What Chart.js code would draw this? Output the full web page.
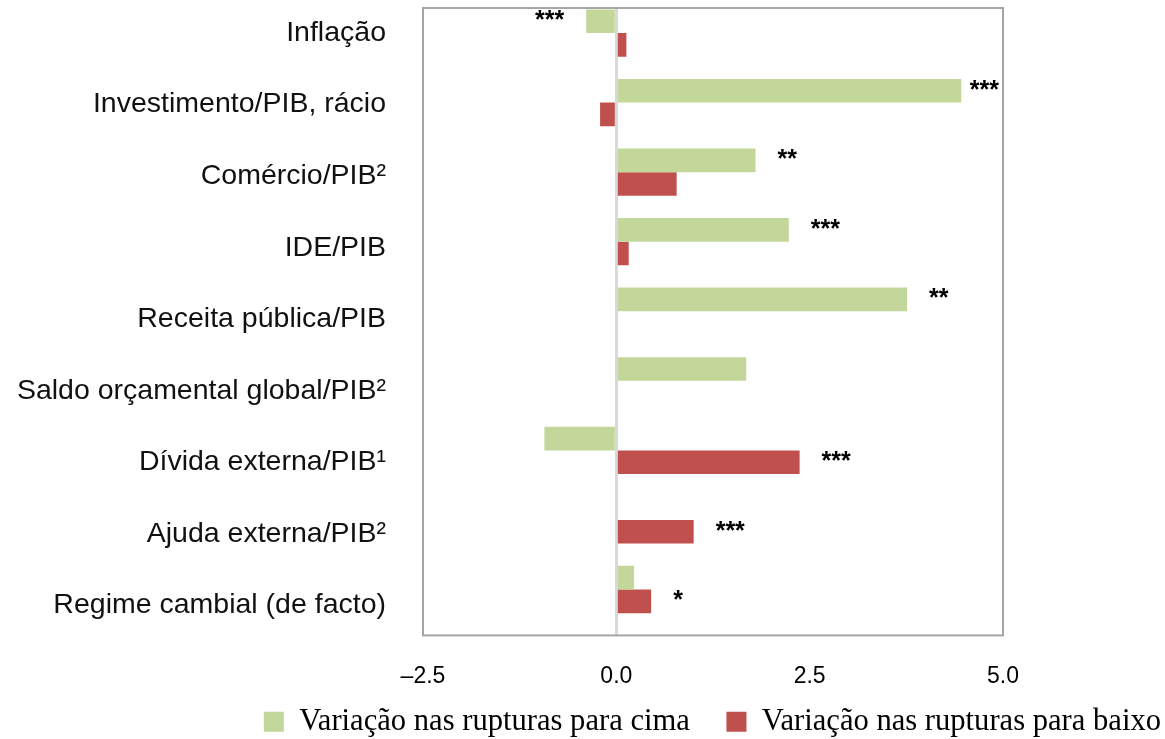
<!DOCTYPE html>
<html lang="pt">
<head>
<meta charset="utf-8">
<title>Rupturas de crescimento</title>
<script src="https://cdn.jsdelivr.net/npm/chart.js@4.4.0/dist/chart.umd.min.js"></script>
<style>
    html, body { margin: 0; padding: 0; background: #ffffff; }
    #wrap { width: 1165px; height: 739px; position: relative; }
</style>
</head>
<body>
<div id="wrap"><canvas id="rupturasChart"></canvas></div>
<script>
// ==================== Data ====================

const categories = [
    'Inflação',
    'Investimento/PIB, rácio',
    'Comércio/PIB²',
    'IDE/PIB',
    'Receita pública/PIB',
    'Saldo orçamental global/PIB²',
    'Dívida externa/PIB¹',
    'Ajuda externa/PIB²',
    'Regime cambial (de facto)'
];

const upValues = [-0.39, 4.46, 1.80, 2.23, 3.76, 1.68, -0.93, null, 0.23];
const downValues = [0.13, -0.21, 0.78, 0.16, null, null, 2.37, 1.00, 0.45];

const upStars = ['***', '***', '**', '***', '**', '', '', '', ''];
const downStars = ['', '', '', '', '', '', '***', '***', '*'];

const xTicks = [-2.5, 0, 2.5, 5.0];

const seriesNames = ['Variação nas rupturas para cima', 'Variação nas rupturas para baixo'];

// ==================== Plugins ====================

// grey frame around the plot area
const framePlugin = {
    id: 'frame',
    afterDatasetsDraw(chart) {
        const a = chart.chartArea;
        const ctx = chart.ctx;
        ctx.save();
        ctx.strokeStyle = '#a6a6a6';
        ctx.lineWidth = 2;
        ctx.strokeRect(a.left, a.top, a.right - a.left, a.bottom - a.top);
        ctx.restore();
    }
};

// significance stars next to the bar ends
const starsPlugin = {
    id: 'stars',
    afterDatasetsDraw(chart) {
        const ctx = chart.ctx;
        const area = chart.chartArea;
        const starSets = [upStars, downStars];
        ctx.save();
        ctx.font = 'bold 25px "Liberation Sans", Arial, sans-serif';
        ctx.fillStyle = '#000000';
        ctx.textBaseline = 'middle';
        ctx.textAlign = 'left';
        chart.data.datasets.forEach((ds, di) => {
            const meta = chart.getDatasetMeta(di);
            meta.data.forEach((bar, i) => {
                const txt = starSets[di][i];
                const v = ds.data[i].x;
                if (!txt || v === null) return;
                const w = ctx.measureText(txt).width;
                let x;
                if (v < 0) {
                    x = bar.x - 22 - w;
                } else {
                    x = bar.x + 22;
                    if (x + w > area.right - 4) x = area.right - 4 - w;
                }
                ctx.fillText(txt, x, bar.y);
            });
        });
        ctx.restore();
    }
};

// ==================== Chart ====================

const ctx = document.getElementById('rupturasChart');
const categoryTicks = scale => { scale.ticks = categories.map((c, i) => ({ value: i })); };

new Chart(ctx, {
    type: 'bar',
    data: {
        datasets: [{
            label: seriesNames[0],
            data: upValues.map((v, i) => ({ x: v, y: i })),
            backgroundColor: '#c4d79b',
            borderWidth: 0
        }, {
            label: seriesNames[1],
            data: downValues.map((v, i) => ({ x: v, y: i })),
            backgroundColor: '#c0504d',
            borderWidth: 0
        }]
    },
    options: {
        indexAxis: 'y',
        responsive: true,
        maintainAspectRatio: false,
        animation: false,
        categoryPercentage: 0.68,
        barPercentage: 1,
        layout: {
            padding: { top: 8, left: 0, right: -2, bottom: -8 }
        },
        plugins: {
            tooltip: { enabled: false },
            legend: {
                position: 'bottom',
                align: 'end',
                labels: {
                    color: '#000000',
                    boxWidth: 20,
                    boxHeight: 20,
                    padding: 6,
                    font: { family: '"Liberation Serif", "Times New Roman", serif', size: 30.6 },
                    // wider gap after the first entry, as in the original legend
                    generateLabels: chart => {
                        const items = Chart.defaults.plugins.legend.labels.generateLabels(chart);
                        items[0].text = items[0].text + '\u2003';
                        return items;
                    }
                }
            }
        },
        scales: {
            x: {
                type: 'linear',
                min: -2.5,
                max: 5.0,
                afterBuildTicks: scale => { scale.ticks = xTicks.map(v => ({ value: v })); },
                afterFit: scale => { scale.height = 65; },
                ticks: {
                    color: '#000000',
                    padding: 27,
                    maxRotation: 0,
                    font: { family: '"Liberation Sans", Arial, sans-serif', size: 23 },
                    callback: v => (v < 0 ? '\u2013' + Math.abs(v).toFixed(1) : v.toFixed(1))
                },
                grid: {
                    drawTicks: false,
                    lineWidth: 3,
                    color: c => (c.tick && c.tick.value === 0 ? '#d9d9d9' : 'rgba(0,0,0,0)')
                },
                border: { display: false }
            },
            // bar positions
            y: {
                type: 'linear',
                display: false,
                reverse: true,
                offset: false,
                min: -0.36,
                max: 8.66,
                afterBuildTicks: categoryTicks
            },
            // category labels (spaced slightly wider than the bars, as in the original)
            labels: {
                type: 'linear',
                position: 'left',
                reverse: true,
                offset: false,
                min: -0.35,
                max: 8.42,
                afterBuildTicks: categoryTicks,
                afterFit: scale => {
                    scale.width = 423;
                    scale.paddingTop = 0;
                    scale.paddingBottom = 0;
                },
                ticks: {
                    color: '#111111',
                    padding: 37,
                    font: { family: '"Liberation Sans", Arial, sans-serif', size: 28.5 },
                    callback: v => categories[v]
                },
                grid: { display: false, drawTicks: false },
                border: { display: false }
            },
            pad: {
                type: 'linear',
                position: 'right',
                afterFit: scale => {
                    scale.width = 164;
                    scale.paddingTop = 0;
                    scale.paddingBottom = 0;
                },
                ticks: { display: false },
                grid: { display: false, drawTicks: false },
                border: { display: false }
            }
        }
    },
    plugins: [framePlugin, starsPlugin]
});
</script>
</body>
</html>
